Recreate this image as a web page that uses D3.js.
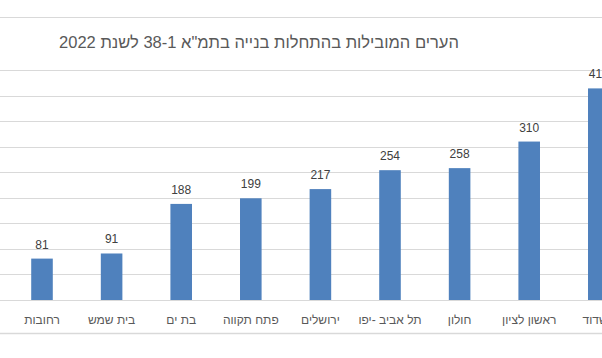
<!DOCTYPE html>
<html><head><meta charset="utf-8">
<script src="https://cdn.jsdelivr.net/npm/d3@7"></script>
<style>html,body{margin:0;padding:0;background:#fff;overflow:hidden}</style>
</head><body>
<svg id="c" width="602" height="358"></svg>
<script>
const titleText = "הערים המובילות בהתחלות בנייה בתמ\"א 38-1 לשנת 2022";
const categories = ["רחובות","בית שמש","בת ים","פתח תקווה","ירושלים","תל אביב -יפו","חולון","ראשון לציון","אשדוד"];
const values = [81, 91, 188, 199, 217, 254, 258, 310, 414];
const yTicks = [0,50,100,150,200,250,300,350,400,450];

const svg = d3.select("#c");
const W = 602, H = 358;
const font = "'Liberation Sans', Arial, sans-serif";

// chart frame lines (cropped outer border)
svg.append("line").attr("x1",0).attr("x2",W).attr("y1",17.5).attr("y2",17.5).attr("stroke","#d9d9d9").attr("stroke-width",1);
svg.append("line").attr("x1",0).attr("x2",W).attr("y1",333.5).attr("y2",333.5).attr("stroke","#d9d9d9").attr("stroke-width",1.5);

const x = d3.scaleBand().domain(categories).range([7.2, 7.2 + 69.6*categories.length]).paddingInner(0.69).paddingOuter(0.345);
const y = d3.scaleLinear().domain([0,450]).range([300, 70]);

// gridlines
svg.append("g").selectAll("line").data(yTicks).join("line")
  .attr("x1",0).attr("x2",W)
  .attr("y1",d=>Math.round(y(d))+0.5).attr("y2",d=>Math.round(y(d))+0.5)
  .attr("stroke","#d9d9d9").attr("stroke-width",1);

// bars
svg.append("g").selectAll("rect").data(values).join("rect")
  .attr("x",(d,i)=>x(categories[i]))
  .attr("width",x.bandwidth())
  .attr("y",d=>y(d))
  .attr("height",d=>y(0)-y(d))
  .attr("fill","#4f81bd");

// value labels
svg.append("g").selectAll("text").data(values).join("text")
  .attr("x",(d,i)=>x(categories[i])+x.bandwidth()/2)
  .attr("y",d=>y(d)-10)
  .attr("text-anchor","middle")
  .attr("font-family",font).attr("font-size","12px").attr("fill","#404040")
  .text(d=>d);

// category labels
svg.append("g").selectAll("text").data(categories).join("text")
  .attr("x",d=>x(d)+x.bandwidth()/2)
  .attr("y",324)
  .attr("text-anchor","middle")
  .attr("direction","rtl")
  .attr("font-family",font).attr("font-size","12px").attr("fill","#595959")
  .text(d=>d);

// title
svg.append("text").attr("x",259).attr("y",48)
  .attr("text-anchor","middle").attr("direction","rtl")
  .attr("font-family",font).attr("font-size","16.5px").attr("fill","#595959")
  .text(titleText);
</script>
</body></html>
